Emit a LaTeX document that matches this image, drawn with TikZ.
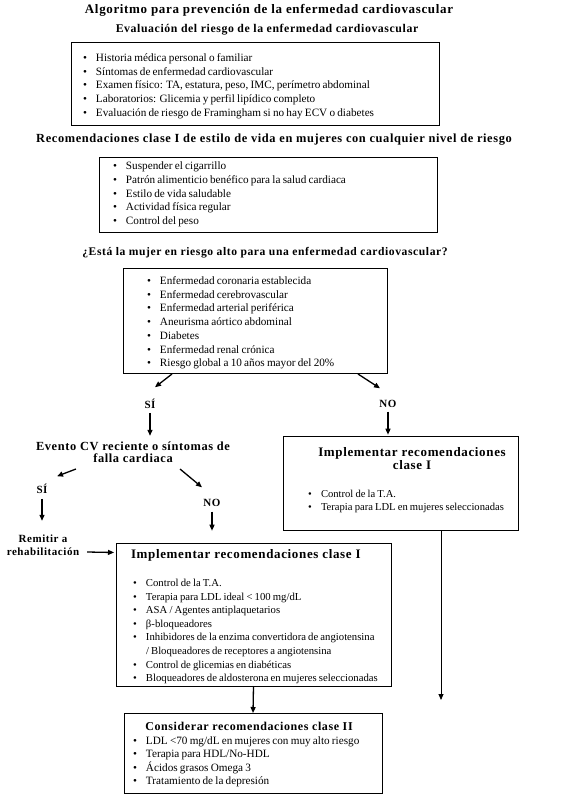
\documentclass[tikz,border=0pt]{standalone}
\usepackage{fontspec}
\setmainfont{Liberation Serif}[WordSpace=0.8]
\newfontfamily\headfont[LetterSpace=5]{Liberation Serif}
\usetikzlibrary{arrows.meta,calc}
\tikzset{
  every node/.style={inner sep=0pt, outer sep=0pt},
  box/.style={draw, line width=0.9pt, rectangle},
  head/.style={font=\headfont\bfseries\fontsize{11}{13}\selectfont},
  item/.style={font=\fontsize{11.2}{12}\selectfont, anchor=base west},
  smallitem/.style={item, font=\fontsize{10.7}{12}\selectfont},
  arr/.style={line width=1.3pt, -{Triangle[length=6pt,width=5pt]}},
  thinarr/.style={line width=0.8pt, -{Triangle[length=6pt,width=5pt]}},
}
\newcommand{\bul}{\makebox[13pt][l]{\textbullet}}
\newcommand{\hs}[1]{\headfont\bfseries\fontsize{#1}{#1}\selectfont}
\begin{document}
\begin{tikzpicture}[x=1pt,y=-1pt]
\useasboundingbox[fill=white] (0,0) rectangle (566,797);
% headings
\node[head, font=\hs{13}] (title) at (269,10) {Algoritmo para prevención de la enfermedad cardiovascular};
\node[head, font=\hs{11.8}] (eval) at (267,30) {Evaluación del riesgo de la enfermedad cardiovascular};
% box 1
\node[box, minimum width=368pt, minimum height=83pt] (b1) at (255,83.5) {};
\foreach \t [count=\i] in {Historia médica personal o familiar, Síntomas de enfermedad cardiovascular, {Examen físico: TA, estatura, peso, IMC, perímetro abdominal}, Laboratorios: Glicemia y perfil lipídico completo, Evaluación de riesgo de Framingham si no hay ECV o diabetes}
  \node[item] (b1i\i) at (83,{61.5+13.75*(\i-1)}) {\bul\t};
\node[head, font=\hs{12.4}] (reco) at (274,140) {Recomendaciones clase I de estilo de vida en mujeres con cualquier nivel de riesgo};
% box 2
\node[box, minimum width=338pt, minimum height=75pt] (b2) at (268,194.5) {};
\foreach \t [count=\i] in {Suspender el cigarrillo, Patrón alimenticio benéfico para la salud cardiaca, Estilo de vida saludable, Actividad física regular, Control del peso}
  \node[item] (b2i\i) at (113,{169.5+13.75*(\i-1)}) {\bul\t};
\node[head, font=\hs{11.6}] (quest) at (265,253) {¿Está la mujer en riesgo alto para una enfermedad cardiovascular?};
% box 3
\node[box, minimum width=264pt, minimum height=105pt] (b3) at (255,320.5) {};
\foreach \t [count=\i] in {Enfermedad coronaria establecida, Enfermedad cerebrovascular, Enfermedad arterial periférica, Aneurisma aórtico abdominal, Diabetes, Enfermedad renal crónica, Riesgo global a 10 años mayor del 20\%}
  \node[item] (b3i\i) at (147,{284.5+13.7*(\i-1)}) {\bul\t};
% decision labels
\node[head] (si1) at (150,404) {SÍ};
\node[head] (no1) at (388,404) {NO};
\draw[arr] ($(b3.south)+(-83,1)$) -- ($(si1.north)+(5,-12)$);
\draw[arr] ($(b3.south)+(103,1)$) -- ($(no1.north)+(-8,-12)$);
\draw[arr] ($(si1.south)+(0,4)$) -- ($(si1.south)+(0,27)$);
\draw[arr] ($(no1.south)+(0,4)$) -- ($(no1.south)+(0,27)$);
% evento
\node[head, font=\hs{12.4}, align=center] (evento) at (133,452) {Evento CV reciente o síntomas de\\falla cardiaca};
% right box
\node[box, minimum width=235pt, minimum height=94pt] (rb) at (400.5,483) {};
\node[head, font=\hs{13}, align=center] (rbt) at (412,458.5) {Implementar recomendaciones\\clase I};
\node[item, font=\fontsize{10.6}{12}\selectfont] (rbi1) at (308,497.5) {\bul Control de la T.A.};
\node[item, font=\fontsize{10.6}{12}\selectfont] (rbi2) at (308,510.5) {\bul Terapia para LDL en mujeres seleccionadas};
% si2/no2
\node[head] (si2) at (42,489) {SÍ};
\node[head] (no2) at (212,503) {NO};
\draw[arr] ($(evento.center)+(-57,17)$) -- ($(si2.north)+(15,-8)$);
\draw[arr] ($(evento.center)+(47,17)$) -- ($(no2.north)+(-10,-12)$);
\draw[arr] ($(si2.south)+(0,5)$) -- ($(si2.south)+(0,27)$);
\draw[arr] ($(no2.south)+(0,5)$) -- ($(no2.south)+(0,24)$);
% remitir
\node[head, align=center] (remitir) at (43,545) {Remitir a\\rehabilitación};
% big box
\node[box, minimum width=275pt, minimum height=143pt] (bb) at (253.5,614.5) {};
\node[head, font=\hs{13}, anchor=west] (bbt) at (131,555) {Implementar recomendaciones clase I};
\draw[arr] ($(remitir.east)+(8,7)$) -- ($(bb.west)+(-2,-62)$);
\foreach \t [count=\i] in {Control de la T.A., Terapia para LDL ideal < 100 mg/dL, ASA / Agentes antiplaquetarios, β-bloqueadores, Inhibidores de la enzima convertidora de angiotensina}
  \node[smallitem] (bbi\i) at (133,{586.5+13.6*(\i-1)}) {\bul\t};
\node[smallitem] (bbi6) at (133,654.5) {\hspace{13pt}/ Bloqueadores de receptores a angiotensina};
\node[smallitem] (bbi7) at (133,668) {\bul Control de glicemias en diabéticas};
\node[smallitem] (bbi8) at (133,681.5) {\bul Bloqueadores de aldosterona en mujeres seleccionadas};
% considerar box
\node[box, minimum width=258pt, minimum height=80pt] (cb) at (253,753) {};
\node[head, font=\hs{12}] (cbt) at (249,726) {Considerar recomendaciones clase II};
\foreach \t [count=\i] in {LDL <70 mg/dL en mujeres con muy alto riesgo, Terapia para HDL/No-HDL, Ácidos grasos Omega 3, Tratamiento de la depresión}
  \node[item] (cbi\i) at (133,{744.5+13.3*(\i-1)}) {\bul\t};
\draw[arr] (bb.south) -- (cb.north);
\draw[thinarr] ($(rb.south)+(40.5,0)$) -- ($(rb.south)+(40.5,170)$);
\end{tikzpicture}
\end{document}
